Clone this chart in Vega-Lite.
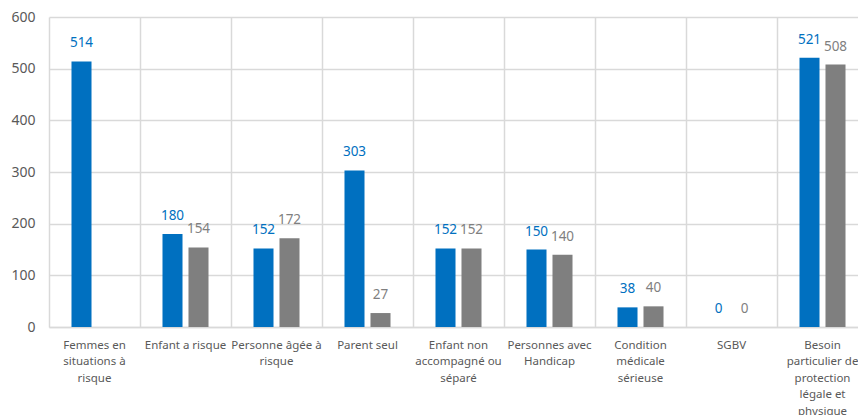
{
  "$schema": "https://vega.github.io/schema/vega-lite/v6.json",
  "autosize": {"type": "none"},
  "padding": {"left": 49, "top": 17, "right": 0, "bottom": 88},
  "width": 819,
  "height": 310,
  "background": "white",
  "config": {
    "view": {"stroke": null},
    "font": "Noto Sans"
  },
  "data": {
    "values": [
      {"cat": "Femmes en|situations à|risque", "series": "A", "value": 514},
      {"cat": "Enfant a risque", "series": "A", "value": 180},
      {"cat": "Enfant a risque", "series": "B", "value": 154},
      {"cat": "Personne âgée à|risque", "series": "A", "value": 152},
      {"cat": "Personne âgée à|risque", "series": "B", "value": 172},
      {"cat": "Parent seul", "series": "A", "value": 303},
      {"cat": "Parent seul", "series": "B", "value": 27},
      {"cat": "Enfant non|accompagné ou|séparé", "series": "A", "value": 152},
      {"cat": "Enfant non|accompagné ou|séparé", "series": "B", "value": 152},
      {"cat": "Personnes avec|Handicap", "series": "A", "value": 150},
      {"cat": "Personnes avec|Handicap", "series": "B", "value": 140},
      {"cat": "Condition|médicale|sérieuse", "series": "A", "value": 38},
      {"cat": "Condition|médicale|sérieuse", "series": "B", "value": 40},
      {"cat": "SGBV", "series": "A", "value": 0},
      {"cat": "SGBV", "series": "B", "value": 0},
      {"cat": "Besoin|particulier de|protection|légale et|physique", "series": "A", "value": 521},
      {"cat": "Besoin|particulier de|protection|légale et|physique", "series": "B", "value": 508}
    ]
  },
  "encoding": {
    "x": {
      "field": "cat",
      "type": "nominal",
      "sort": null,
      "scale": {"paddingInner": 0, "paddingOuter": 0},
      "axis": {
        "title": null,
        "labelAngle": 0,
        "labelExpr": "split(datum.label, '|')",
        "labelFontSize": 11.5,
        "labelColor": "#595959",
        "labelLineHeight": 16.5,
        "labelPadding": 12,
        "labelBaseline": "top",
        "ticks": false,
        "domainColor": "#d9d9d9",
        "domainWidth": 1.5,
        "grid": true,
        "gridColor": "#d9d9d9",
        "gridWidth": 1.5,
        "bandPosition": 0,
        "labelBound": false,
        "labelOverlap": false
      }
    },
    "xOffset": {
      "field": "series",
      "type": "nominal",
      "scale": {"domain": ["A", "B"], "paddingInner": 0.23, "paddingOuter": 0.865}
    },
    "y": {
      "field": "value",
      "type": "quantitative",
      "scale": {"domain": [0, 600]},
      "axis": {
        "title": null,
        "values": [0, 100, 200, 300, 400, 500, 600],
        "labelFontSize": 14,
        "labelColor": "#595959",
        "labelPadding": 14,
        "ticks": false,
        "domain": false,
        "gridColor": "#d9d9d9",
        "gridWidth": 1.5
      }
    },
    "color": {
      "field": "series",
      "type": "nominal",
      "scale": {"domain": ["A", "B"], "range": ["#0070c0", "#7f7f7f"]},
      "legend": null
    }
  },
  "layer": [
    {"mark": {"type": "bar"}},
    {
      "mark": {"type": "text", "baseline": "bottom", "dy": -11, "fontSize": 13.5},
      "encoding": {"text": {"field": "value", "type": "quantitative"}}
    }
  ]
}
